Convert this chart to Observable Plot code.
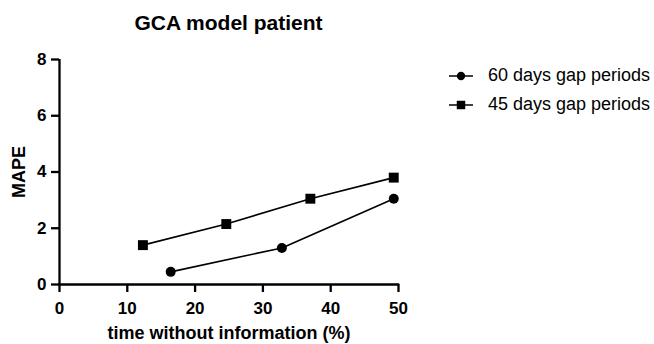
<!DOCTYPE html>
<html>
<head>
<meta charset="utf-8">
<script src="https://cdn.jsdelivr.net/npm/d3@7"></script>
<script src="https://cdn.jsdelivr.net/npm/@observablehq/plot@0.6"></script>
<style>
  html, body { margin: 0; padding: 0; background: #fff; }
  #wrap { position: relative; width: 654px; height: 344px; font-family: "Liberation Sans", Arial, sans-serif; color: #000; }
  #title { position: absolute; left: 59px; width: 339px; top: 11px; text-align: center; font-size: 21px; font-weight: bold; }
  #legend { position: absolute; left: 448px; top: 61px; font-size: 18px; }
  #legend .row { display: flex; align-items: center; height: 29px; }
  #legend svg { margin-right: 14px; }
</style>
</head>
<body>
<div id="wrap">
  <div id="title"></div>
  <div id="legend"></div>
</div>
<script>
const title = "GCA model patient";
const xLabel = "time without information (%)";
const yLabel = "MAPE";
const seriesNames = ["60 days gap periods", "45 days gap periods"];
const x60 = [16.4, 32.8, 49.3];
const y60 = [0.45, 1.3, 3.05];
const x45 = [12.3, 24.6, 37.0, 49.3];
const y45 = [1.4, 2.15, 3.05, 3.8];
const xTicks = [0, 10, 20, 30, 40, 50];
const yTicks = [0, 2, 4, 6, 8];

const s60 = x60.map((x, i) => ({x, y: y60[i]}));
const s45 = x45.map((x, i) => ({x, y: y45[i]}));

document.getElementById("title").textContent = title;

const chart = Plot.plot({
  width: 654,
  height: 344,
  marginLeft: 59,
  marginRight: 256,
  marginTop: 59,
  marginBottom: 60,
  style: {fontFamily: "Liberation Sans, Arial, sans-serif", fontWeight: "bold", color: "#000", background: "transparent"},
  x: {domain: [0, 50]},
  y: {domain: [0, 8]},
  marks: [
    Plot.axisX({ticks: xTicks, tickSize: 8, strokeWidth: 2.3, tickPadding: 9, fontSize: 17, label: null}),
    Plot.axisY({ticks: yTicks, tickSize: 8, strokeWidth: 2.3, tickPadding: 5, fontSize: 17, label: null}),
    Plot.text([xLabel], {frameAnchor: "bottom", dy: 54, fontSize: 18, fontWeight: "bold", text: d => d}),
    Plot.text([yLabel], {frameAnchor: "left", textAnchor: "middle", dx: -40, rotate: -90, fontSize: 18, fontWeight: "bold", text: d => d}),
    Plot.ruleX([0], {strokeWidth: 2.3}),
    Plot.ruleY([0], {strokeWidth: 2.3, strokeLinecap: "square"}),
    Plot.line(s60, {x: "x", y: "y", stroke: "#000", strokeWidth: 1.6}),
    Plot.line(s45, {x: "x", y: "y", stroke: "#000", strokeWidth: 1.6}),
    Plot.dot(s60, {x: "x", y: "y", r: 5, fill: "#000", symbol: "circle"}),
    Plot.dot(s45, {x: "x", y: "y", r: 5.6, fill: "#000", symbol: "square"})
  ]
});
document.getElementById("wrap").prepend(chart);
chart.style.position = "absolute";
chart.style.left = "0px";
chart.style.top = "0px";

const legend = document.getElementById("legend");
const symbols = ["circle", "square"];
seriesNames.forEach((name, i) => {
  const row = document.createElement("div");
  row.className = "row";
  const ns = "http://www.w3.org/2000/svg";
  const svg = document.createElementNS(ns, "svg");
  svg.setAttribute("width", 26); svg.setAttribute("height", 12);
  const ln = document.createElementNS(ns, "line");
  ln.setAttribute("x1", 1); ln.setAttribute("x2", 25); ln.setAttribute("y1", 6); ln.setAttribute("y2", 6);
  ln.setAttribute("stroke", "#000"); ln.setAttribute("stroke-width", 1.5);
  svg.appendChild(ln);
  const p = document.createElementNS(ns, "path");
  p.setAttribute("transform", "translate(13,6)");
  p.setAttribute("d", d3.symbol(symbols[i] === "circle" ? d3.symbolCircle : d3.symbolSquare, symbols[i] === "circle" ? 55 : 72)());
  p.setAttribute("fill", "#000");
  svg.appendChild(p);
  row.appendChild(svg);
  const t = document.createElement("span");
  t.textContent = name;
  row.appendChild(t);
  legend.appendChild(row);
});
</script>
</body>
</html>
